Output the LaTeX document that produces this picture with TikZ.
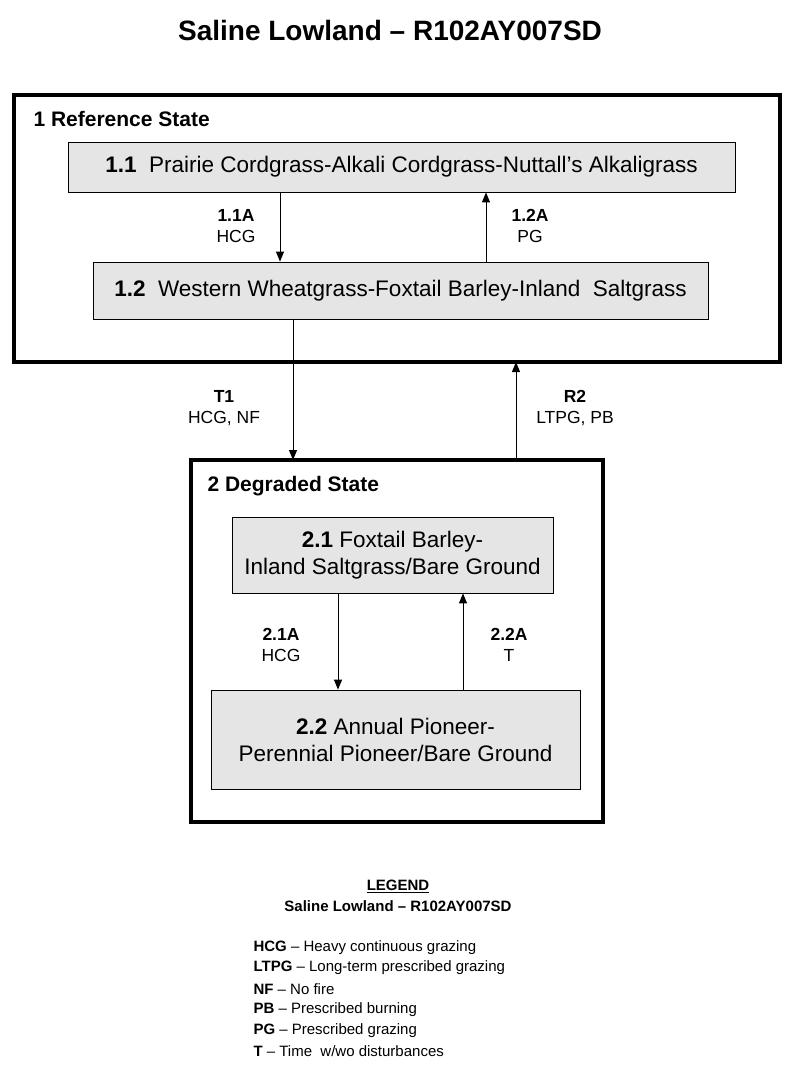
\documentclass[tikz,border=0pt]{standalone}
\usepackage{fontspec}
\setmainfont{Liberation Sans}
\usetikzlibrary{arrows.meta}
\begin{document}
\begin{tikzpicture}[x=1pt,y=-1pt,
  statebox/.style={draw,line width=4pt},
  comm/.style={draw,fill=black!10,line width=0.8pt,inner sep=0pt},
  arr/.style={-{Triangle[length=10pt,width=8pt]},line width=1pt},
  lab/.style={font=\fontsize{17.5}{21}\selectfont,align=center},
  boxt/.style={font=\fontsize{22.5}{27}\selectfont,align=center},
  leg/.style={font=\fontsize{15}{17}\selectfont,anchor=west}]
\useasboundingbox (0,0) rectangle (800,1077);
\node[font=\fontsize{28}{32}\selectfont\bfseries] (title) at (390,30) {Saline Lowland -- R102AY007SD};
% state 1
\draw[statebox] (14,95) rectangle (780,362);
\node[anchor=west,font=\fontsize{21}{24}\selectfont\bfseries] (s1) at (30,119) {1 Reference State};
\node[comm,minimum width=667pt,minimum height=50pt,boxt] (b11) at (401.5,167) {\textbf{1.1}\ \ Prairie Cordgrass-Alkali Cordgrass-Nuttall’s Alkaligrass};
\node[comm,minimum width=615pt,minimum height=57pt,boxt] (b12) at (400.5,290.5) {\textbf{1.2}\ \ Western Wheatgrass-Foxtail Barley-Inland\ \ Saltgrass};
\draw[arr] (b11.south -| 280,0) -- (b12.north -| 280,0);
\draw[arr] (b12.north -| 486,0) -- (b11.south -| 486,0);
\node[lab] (l11) at (236,226) {\textbf{1.1A}\\HCG};
\node[lab] (l12) at (530,226) {\textbf{1.2A}\\PG};
% state 2
\draw[statebox] (191,460) rectangle (603,822);
\node[anchor=west,font=\fontsize{21}{24}\selectfont\bfseries] (s2) at (204,486) {2 Degraded State};
\node[comm,minimum width=321pt,minimum height=76pt,boxt] (b21) at (392.5,555) {\textbf{2.1} Foxtail Barley-\\Inland Saltgrass/Bare Ground};
\node[comm,minimum width=369pt,minimum height=99pt,boxt] (b22) at (395.5,739.5) {\textbf{2.2} Annual Pioneer-\\Perennial Pioneer/Bare Ground};
\draw[arr] (b21.south -| 338,0) -- (b22.north -| 338,0);
\draw[arr] (b22.north -| 463,0) -- (b21.south -| 463,0);
\node[lab] (l21) at (281,645) {\textbf{2.1A}\\HCG};
\node[lab] (l22) at (509,645) {\textbf{2.2A}\\T};
% transitions
\coordinate (t1a) at (293,319);
\coordinate (t1b) at (293,460);
\draw[arr] (b12.south -| t1a) -- (t1b);
\coordinate (r2a) at (516,460);
\coordinate (r2b) at (516,362);
\draw[arr] (r2a) -- (r2b);
\node[lab] (lt1) at (224,408) {\textbf{T1}\\HCG, NF};
\node[lab] (lr2) at (575,408) {\textbf{R2}\\LTPG, PB};
% legend
\node[font=\fontsize{15}{17}\selectfont\bfseries] (lg) at (398,886) {\underline{LEGEND}};
\node[font=\fontsize{15}{17}\selectfont\bfseries] (lg2) at (398,906) {Saline Lowland -- R102AY007SD};
\node[leg] (e1) at (250,948) {\textbf{HCG} -- Heavy continuous grazing};
\node[leg] (e2) at (250,968) {\textbf{LTPG} -- Long-term prescribed grazing};
\node[leg] (e3) at (250,989) {\textbf{NF} -- No fire};
\node[leg] (e4) at (250,1010) {\textbf{PB} -- Prescribed burning};
\node[leg] (e5) at (250,1031) {\textbf{PG} -- Prescribed grazing};
\node[leg] (e6) at (250,1051) {\textbf{T} -- Time\ \ w/wo disturbances};
\end{tikzpicture}
\end{document}
